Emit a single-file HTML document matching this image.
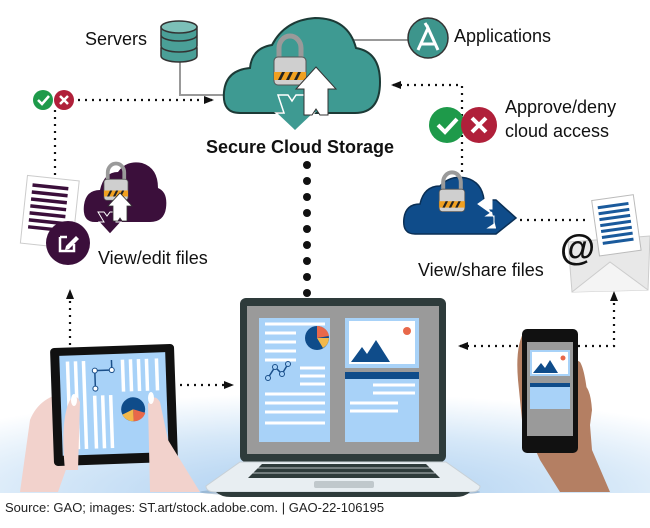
<!DOCTYPE html>
<html><head><meta charset="utf-8"><style>
html,body{margin:0;padding:0;background:#fff}
svg{display:block}
text{font-family:"Liberation Sans",Arial,sans-serif}
</style></head><body>
<svg width="650" height="528" viewBox="0 0 650 528" xmlns="http://www.w3.org/2000/svg">
<defs>
<radialGradient id="bg" cx="0.5" cy="1" r="0.75">
<stop offset="0" stop-color="#a9cdf0"/><stop offset="0.6" stop-color="#d6e8f8"/><stop offset="1" stop-color="#ffffff"/>
</radialGradient>
<marker id="ar" markerWidth="10" markerHeight="8" refX="8" refY="4" orient="auto" markerUnits="userSpaceOnUse"><path d="M0,0 L10,4 L0,8z" fill="#111"/></marker>
<g id="lock">
<path d="M-11,0 V-10 A11,12 0 0 1 11,-10 V0" fill="none" stroke="#9a9a9a" stroke-width="5"/>
<rect x="-16" y="-1" width="32" height="28" rx="4" fill="#cfcfcf" stroke="#555" stroke-width="1"/>
<rect x="-16" y="14" width="32" height="8" fill="#f0a020"/>
<path d="M-12,22 l4,-8 h3 l-4,8z M-4,22 l4,-8 h3 l-4,8z M4,22 l4,-8 h3 l-4,8z" fill="#222"/>
</g>
</defs>
<rect width="650" height="528" fill="#fff"/>
<rect x="0" y="360" width="650" height="133" fill="url(#bg)"/>

<polyline points="180,60 180,95 232,95" fill="none" stroke="#999" stroke-width="2"/>
<line x1="350" y1="40" x2="410" y2="40" stroke="#999" stroke-width="2"/>

<g fill="#4a9f97" stroke="#333" stroke-width="1.5">
<path d="M161,48 v8 a18,6 0 0 0 36,0 v-8z"/>
<path d="M161,36 v10 a18,6 0 0 0 36,0 v-10z"/>
<path d="M161,27 v8 a18,6 0 0 0 36,0 v-8z"/>
<ellipse cx="179" cy="27" rx="18" ry="6" fill="#7cc0b8"/>
</g>
<text x="85" y="45" font-size="18" fill="#111">Servers</text>

<circle cx="428" cy="38" r="20" fill="#3d958c" stroke="#333" stroke-width="1.5"/>
<path d="M418,50 L428,28 L438,50 M421,44 H435 M428,28 l-3,-5" stroke="#fff" stroke-width="3" fill="none"/>
<text x="454" y="42" font-size="18" fill="#111">Applications</text>

<path d="M240,113 Q222,113 224,92 Q226,70 250,68 Q252,48 272,45 Q285,20 315,18 Q348,18 356,48 Q380,52 380,82 Q380,113 355,113 Z" fill="#3e9a92" stroke="#1c3a36" stroke-width="2"/>
<use href="#lock" transform="translate(290,58)"/>
<path d="M278,95 h10 l4,6 4,-6 h10 v18 h8 l-19,18 -19,-18 h8z" fill="#3e9a92" stroke="#fff" stroke-width="1.5"/>
<path d="M316,67 l20,22 h-8 v26 h-8 l-4,-6 -4,6 h-8 v-26 h-8z" fill="#fff" stroke="#333" stroke-width="1"/>
<text x="300" y="153" font-size="18" font-weight="bold" text-anchor="middle" fill="#111">Secure Cloud Storage</text>

<g fill="#111">
<circle cx="307" cy="165" r="4"/><circle cx="307" cy="181" r="4"/><circle cx="307" cy="197" r="4"/><circle cx="307" cy="213" r="4"/><circle cx="307" cy="229" r="4"/><circle cx="307" cy="245" r="4"/><circle cx="307" cy="261" r="4"/><circle cx="307" cy="277" r="4"/><circle cx="307" cy="293" r="4"/>
</g>

<g stroke="#111" stroke-width="2.2" stroke-dasharray="2,5" fill="none">
<line x1="78" y1="100" x2="212" y2="100" marker-end="url(#ar)"/>
<line x1="55" y1="110" x2="55" y2="178"/>
<polyline points="462,172 462,85 393,85" marker-end="url(#ar)"/>
<line x1="520" y1="220" x2="588" y2="220"/>
<line x1="70" y1="345" x2="70" y2="291" marker-end="url(#ar)"/>
<line x1="180" y1="385" x2="232" y2="385" marker-end="url(#ar)"/>
<polyline points="578,346 614,346 614,293" marker-end="url(#ar)"/>
<line x1="518" y1="346" x2="460" y2="346" marker-end="url(#ar)"/>
</g>

<circle cx="43" cy="100" r="10" fill="#1e9a4a"/>
<path d="M38,100 l4,4 7,-8" stroke="#fff" stroke-width="2.5" fill="none"/>
<circle cx="64" cy="100" r="10" fill="#b0203a"/>
<path d="M60,96 l8,8 M68,96 l-8,8" stroke="#fff" stroke-width="2.5"/>

<circle cx="447" cy="125" r="18" fill="#1e9a4a"/>
<path d="M438,125 l7,7 12,-13" stroke="#fff" stroke-width="4" fill="none"/>
<circle cx="479" cy="125" r="18" fill="#b0203a"/>
<path d="M472,118 l14,14 M486,118 l-14,14" stroke="#fff" stroke-width="4"/>
<text x="505" y="113" font-size="18" fill="#111">Approve/deny</text>
<text x="505" y="137" font-size="18" fill="#111">cloud access</text>

<g transform="rotate(6 50 210)">
<rect x="24" y="178" width="52" height="68" fill="#fff" stroke="#ccc"/>
<g stroke="#3b0f3b" stroke-width="3.5"><line x1="30" y1="187" x2="66" y2="187"/><line x1="30" y1="194" x2="66" y2="194"/><line x1="30" y1="201" x2="66" y2="201"/><line x1="30" y1="208" x2="66" y2="208"/><line x1="30" y1="215" x2="66" y2="215"/><line x1="30" y1="222" x2="66" y2="222"/><line x1="30" y1="229" x2="66" y2="229"/></g>
</g>
<path d="M95,222 Q82,222 84,205 Q86,190 100,190 Q104,172 118,172 Q126,160 142,163 Q158,168 158,188 Q168,192 166,208 Q164,222 150,222 Z" fill="#3b0f3b"/>
<g transform="translate(116,180) scale(0.75)"><use href="#lock"/></g>
<path d="M98,212 h6 l3,4 3,-4 h6 v10 h5 l-11,12 -11,-12 h5z" fill="#3b0f3b" stroke="#fff" stroke-width="1"/>
<path d="M120,193 l12,13 h-5 v15 h-5 l-2,-3 -2,3 h-5 v-15 h-5z" fill="#fff" stroke="#333" stroke-width="0.8"/>
<circle cx="68" cy="243" r="22" fill="#3b0f3b"/>
<path d="M60,237 h7 M60,237 v14 h14 v-7" stroke="#fff" stroke-width="2.5" fill="none"/>
<path d="M66,246 l10,-10 3,3 -10,10 -4,1z" fill="#fff"/>
<text x="98" y="264" font-size="18" fill="#111">View/edit files</text>

<path d="M415,234 Q402,234 404,218 Q406,204 420,204 Q424,186 440,186 Q450,175 466,178 Q482,182 484,200 H496 L516,218 L496,234 Z" fill="#0f4c8a" stroke="#0a2f55" stroke-width="1.5"/>
<g transform="translate(452,190) scale(0.8)"><use href="#lock"/></g>
<path d="M492,194 l-14,10 14,10 -4,-5 h4 z M492,212 l-6,4 h8 v8 l-6,4 h8" fill="#fff" stroke="#fff" stroke-width="1"/>
<path d="M568,242 L650,236 L648,290 L572,292 Z" fill="#e8e8e8" stroke="#ccc"/>
<path d="M572,292 L610,262 L648,290" fill="#f4f4f4" stroke="#ccc"/>
<g transform="rotate(-8 612 230)">
<rect x="596" y="198" width="42" height="56" fill="#fff" stroke="#bbb"/>
<g stroke="#1a5a9c" stroke-width="3"><line x1="601" y1="206" x2="632" y2="206"/><line x1="601" y1="212" x2="632" y2="212"/><line x1="601" y1="218" x2="632" y2="218"/><line x1="601" y1="224" x2="632" y2="224"/><line x1="601" y1="230" x2="632" y2="230"/><line x1="601" y1="236" x2="632" y2="236"/><line x1="601" y1="242" x2="632" y2="242"/></g>
</g>
<text x="560" y="260" font-size="36" font-weight="bold" fill="#111">@</text>
<text x="418" y="276" font-size="18" fill="#111">View/share files</text>

<path d="M20,492 L30,420 Q40,395 70,392 L82,390 L80,430 L58,492Z" fill="#f2d2cc"/>
<g transform="rotate(-2 113 405)">
<rect x="52" y="346" width="124" height="118" rx="4" fill="#111"/>
<rect x="61" y="354" width="106" height="100" fill="#a8d2f8"/>
<g stroke="#fff" stroke-width="3.5"><line x1="69" y1="360" x2="69" y2="448"/><line x1="77" y1="360" x2="77" y2="448"/><line x1="85" y1="360" x2="85" y2="448"/><line x1="124" y1="360" x2="124" y2="392"/><line x1="132" y1="360" x2="132" y2="392"/><line x1="140" y1="360" x2="140" y2="392"/><line x1="148" y1="360" x2="148" y2="392"/><line x1="158" y1="360" x2="158" y2="392"/><line x1="95" y1="395" x2="95" y2="448"/><line x1="103" y1="395" x2="103" y2="448"/><line x1="111" y1="395" x2="111" y2="448"/></g>
<path d="M96,388 V370 H113 V360" stroke="#1a4f8a" stroke-width="1.5" fill="none"/>
<circle cx="96" cy="388" r="2.5" fill="#fff" stroke="#1a4f8a"/><circle cx="96" cy="370" r="2.5" fill="#fff" stroke="#1a4f8a"/><circle cx="113" cy="370" r="2.5" fill="#fff" stroke="#1a4f8a"/>
<circle cx="133" cy="410" r="12" fill="#0f4c8a"/>
<path d="M133,410 L145,414 A12,12 0 0 1 133,422z" fill="#e8684a"/>
<path d="M133,410 L133,422 A12,12 0 0 1 122,415z" fill="#f2b84a"/>
</g>
<path d="M65,470 Q60,420 70,400 Q76,392 80,402 L78,470Z" fill="#f2d2cc"/>
<path d="M148,404 Q154,392 160,402 L168,440 L200,492 L150,492 Z" fill="#f2d2cc"/>
<ellipse cx="74" cy="400" rx="3" ry="6" fill="#fff"/><ellipse cx="151" cy="398" rx="3" ry="6" fill="#fff"/>

<ellipse cx="340" cy="492" rx="140" ry="5" fill="#7a9ab8" opacity="0.5"/>
<rect x="240" y="298" width="206" height="164" rx="6" fill="#2e3b3b"/>
<rect x="247" y="306" width="192" height="148" fill="#9a9a9a"/>
<rect x="259" y="318" width="71" height="124" fill="#a8d2f8"/>
<g stroke="#fff" stroke-width="3"><line x1="265" y1="324" x2="325" y2="324"/><line x1="265" y1="333" x2="296" y2="333"/><line x1="265" y1="342" x2="296" y2="342"/><line x1="265" y1="351" x2="296" y2="351"/><line x1="265" y1="360" x2="296" y2="360"/><line x1="300" y1="368" x2="325" y2="368"/><line x1="300" y1="376" x2="325" y2="376"/><line x1="300" y1="384" x2="325" y2="384"/><line x1="265" y1="394" x2="325" y2="394"/><line x1="265" y1="403" x2="325" y2="403"/><line x1="265" y1="412" x2="325" y2="412"/><line x1="265" y1="423" x2="325" y2="423"/></g>
<circle cx="317" cy="338" r="12" fill="#0f4c8a"/>
<path d="M317,338 L317,326 A12,12 0 0 1 329,336z" fill="#e8684a"/>
<path d="M317,338 L329,338 A12,12 0 0 1 323,348z" fill="#f2b84a"/>
<path d="M268,378 L275,367 L282,374 L288,364" stroke="#1a4f8a" stroke-width="1.5" fill="none"/>
<g fill="#a8d2f8" stroke="#1a4f8a"><circle cx="268" cy="378" r="2.5"/><circle cx="275" cy="367" r="2.5"/><circle cx="282" cy="374" r="2.5"/><circle cx="288" cy="364" r="2.5"/></g>
<rect x="345" y="318" width="74" height="50" fill="#a8d2f8"/>
<rect x="349" y="321" width="66" height="43" fill="#fff"/>
<path d="M351,362 L362,347 L367,354 L376,340 L390,362z" fill="#0f4c8a"/>
<circle cx="407" cy="331" r="4" fill="#e8684a"/>
<rect x="345" y="372" width="74" height="70" fill="#a8d2f8"/>
<rect x="345" y="372" width="74" height="7" fill="#0f4c8a"/>
<g stroke="#fff" stroke-width="3"><line x1="373" y1="385" x2="415" y2="385"/><line x1="373" y1="393" x2="415" y2="393"/><line x1="350" y1="403" x2="398" y2="403"/><line x1="350" y1="411" x2="398" y2="411"/></g>
<path d="M240,462 H446 L480,486 Q480,492 470,492 H216 Q206,492 206,486Z" fill="#e8eef2" stroke="#c8d0d6"/>
<path d="M262,464 H426 L440,478 H248Z" fill="#2e3b3b"/>
<g stroke="#e8eef2" stroke-width="0.8"><line x1="256" y1="468" x2="430" y2="468"/><line x1="252" y1="473" x2="435" y2="473"/></g>
<rect x="314" y="481" width="60" height="7" rx="2" fill="#c0c8cc"/>
<path d="M216,492 H470 Q465,497 455,497 H231 Q221,497 216,492Z" fill="#2e3b3b"/>

<path d="M525,330 Q515,345 518,380 L522,420 L540,460 L560,492 L610,492 L592,450 L588,400 Q585,370 580,362 Z" fill="#b47f63"/>
<rect x="522" y="329" width="56" height="124" rx="5" fill="#111"/>
<rect x="527" y="342" width="46" height="94" fill="#9a9a9a"/>
<rect x="530" y="350" width="40" height="26" fill="#a8d2f8"/><rect x="532" y="352" width="36" height="22" fill="#fff"/>
<path d="M533,373 L541,363 L545,368 L550,360 L558,373z" fill="#0f4c8a"/><circle cx="563" cy="358" r="2.5" fill="#e8684a"/>
<rect x="530" y="383" width="40" height="26" fill="#a8d2f8"/><rect x="530" y="383" width="40" height="4" fill="#0f4c8a"/>
<path d="M578,385 Q590,380 592,410 L588,440 L578,440Z" fill="#b47f63"/>

<text x="5" y="512" font-size="13" fill="#222">Source: GAO; images: ST.art/stock.adobe.com.  |  GAO-22-106195</text>
</svg>
</body></html>
